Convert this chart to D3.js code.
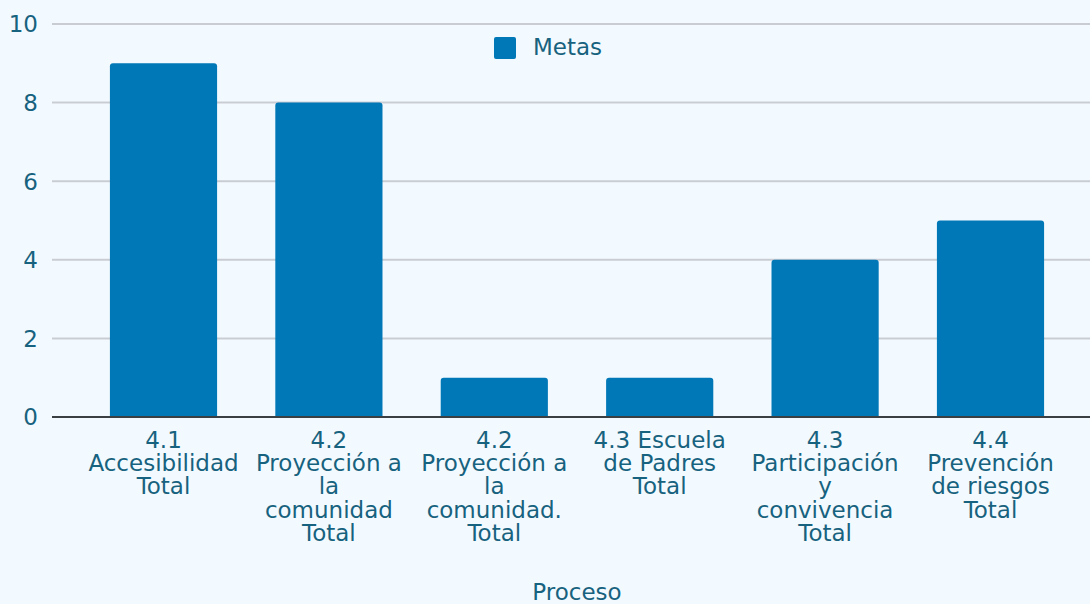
<!DOCTYPE html>
<html><head><meta charset="utf-8">
<script src="https://cdn.jsdelivr.net/npm/d3@7"></script>
<style>
html,body{margin:0;padding:0;background:#f3faff;}
svg{display:block;}
text{font-family:"DejaVu Sans",Verdana,sans-serif;fill:#17627e;}
</style></head><body>
<svg id="c" width="1090" height="604"></svg>
<script>
const categories = [
  ["4.1","Accesibilidad","Total"],
  ["4.2","Proyección a","la","comunidad","Total"],
  ["4.2","Proyección a","la","comunidad.","Total"],
  ["4.3 Escuela","de Padres","Total"],
  ["4.3","Participación","y","convivencia","Total"],
  ["4.4","Prevención","de riesgos","Total"]
];
const metas = [9, 8, 1, 1, 4, 5];
const yTicks = [0, 2, 4, 6, 8, 10];
const seriesName = "Metas";
const xTitle = "Proceso";

(function(){
const svg = d3.select("#c");
const FS = 23;
const plotL = 52, plotR = 1090, plotTop = 24, plotBottom = 417;
const keys = categories.map((d,i)=>i);
const x = d3.scaleBand().domain(keys).range([80.8, 1073.2]).paddingInner(0.352).paddingOuter(0.176);
const y = d3.scaleLinear().domain([0,10]).range([plotBottom, plotTop]);
const barColor = "#0077b6";

svg.append("g").selectAll("line").data(yTicks.filter(t=>t>0)).join("line")
  .attr("x1", plotL).attr("x2", plotR).attr("y1", d=>y(d)).attr("y2", d=>y(d))
  .attr("stroke", "#c9cdd3").attr("stroke-width", 2);

svg.append("g").selectAll("text").data(yTicks).join("text")
  .attr("x", 38).attr("y", d=>y(d)+8.3).attr("text-anchor","end")
  .attr("font-size", FS).text(d=>d);

const r = 3;
svg.append("g").selectAll("path").data(metas).join("path")
  .attr("fill", barColor)
  .attr("d", (d,i)=>{
    const x0 = x(i), w = x.bandwidth(), y0 = y(d), y1 = y(0);
    return `M${x0},${y1}V${y0+r}Q${x0},${y0} ${x0+r},${y0}H${x0+w-r}Q${x0+w},${y0} ${x0+w},${y0+r}V${y1}Z`;
  });

svg.append("line").attr("x1", plotL).attr("x2", plotR).attr("y1", y(0)).attr("y2", y(0))
  .attr("stroke", "#3a3f44").attr("stroke-width", 2);

const xl = svg.append("g");
categories.forEach((lines,i)=>{
  const cx = x(i)+x.bandwidth()/2;
  const t = xl.append("text").attr("text-anchor","middle").attr("font-size", FS)
    .attr("x", cx).attr("y", 447.7);
  lines.forEach((s,j)=>{
    t.append("tspan").attr("x", cx).attr("dy", j===0?0:23.3).text(s);
  });
});

svg.append("text").attr("x", 577).attr("y", 600).attr("text-anchor","middle")
  .attr("font-size", FS).text(xTitle);

svg.append("rect").attr("x", 494).attr("y", 37).attr("width", 22).attr("height", 22)
  .attr("rx", 2).attr("fill", barColor);
svg.append("text").attr("x", 533).attr("y", 55).attr("font-size", FS).text(seriesName);
})();
</script>
</body></html>
